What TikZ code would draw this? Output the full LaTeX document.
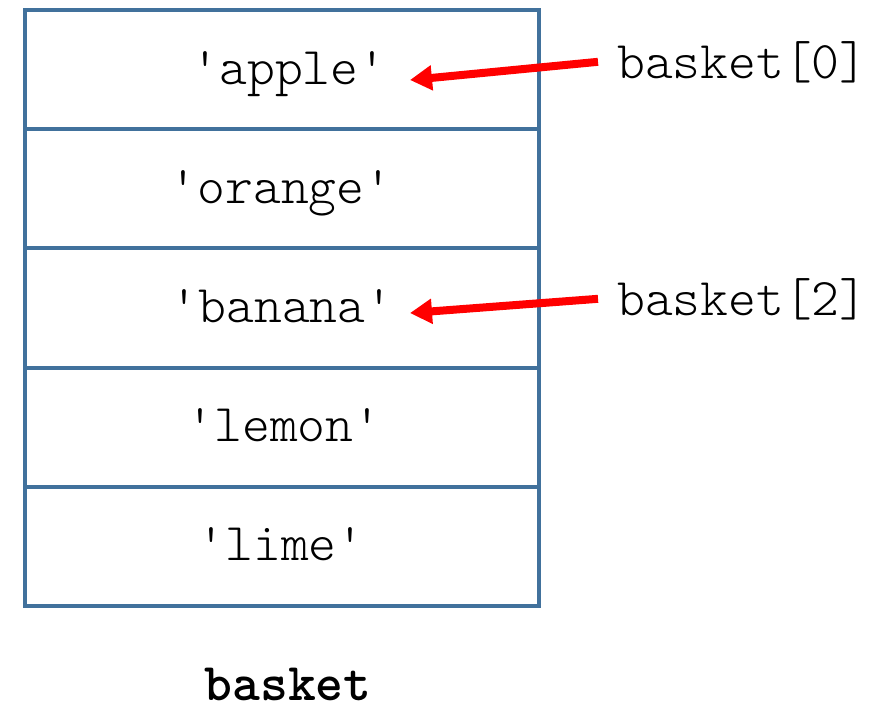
\documentclass[tikz,border=0pt]{standalone}
\usepackage{fontspec}
\newfontfamily\courlike{Latin Modern Mono Light}
\usetikzlibrary{arrows.meta}
\definecolor{boxblue}{RGB}{65,113,156}
\begin{document}
\begin{tikzpicture}[x=1pt,y=-1pt,
  cell/.style={draw=boxblue,line width=4pt,minimum width=514pt,minimum height=119.2pt,inner sep=0pt,anchor=center},
  val/.style={font=\courlike\fontsize{53}{60}\selectfont,inner sep=0pt,anchor=base},
  lbl/.style={font=\courlike\fontsize{53}{60}\selectfont,inner xsep=19pt,inner ysep=0pt,anchor=base west},
  ptr/.style={red,line width=8pt,-{Triangle[length=22pt,width=24pt]}}]
\useasboundingbox (0,0) rectangle (895,710);
\node[cell] (c0) at (282,69.6) {};
\node[cell] (c1) at (282,188.8) {};
\node[cell] (c2) at (282,308.0) {};
\node[cell] (c3) at (282,427.2) {};
\node[cell] (c4) at (282,546.4) {};
\node[val] (v0) at (289,84) {'apple'};
\node[val] (v1) at (281,203) {'orange'};
\node[val] (v2) at (282,322) {'banana'};
\node[val] (v3) at (284,441) {'lemon'};
\node[val] (v4) at (281,560) {'lime'};
\node[lbl] (l0) at (598,78) {basket[0]};
\node[lbl] (l2) at (598,315) {basket[2]};
\coordinate (t0) at (410,80);
\coordinate (t2) at (410,313);
\draw[ptr] (l0.west) -- (t0);
\draw[ptr] (l2.west) -- (t2);
\node[font=\courlike\bfseries\fontsize{53}{60}\selectfont,inner sep=0pt,anchor=base] (name) at (288,700) {basket};
\end{tikzpicture}
\end{document}
